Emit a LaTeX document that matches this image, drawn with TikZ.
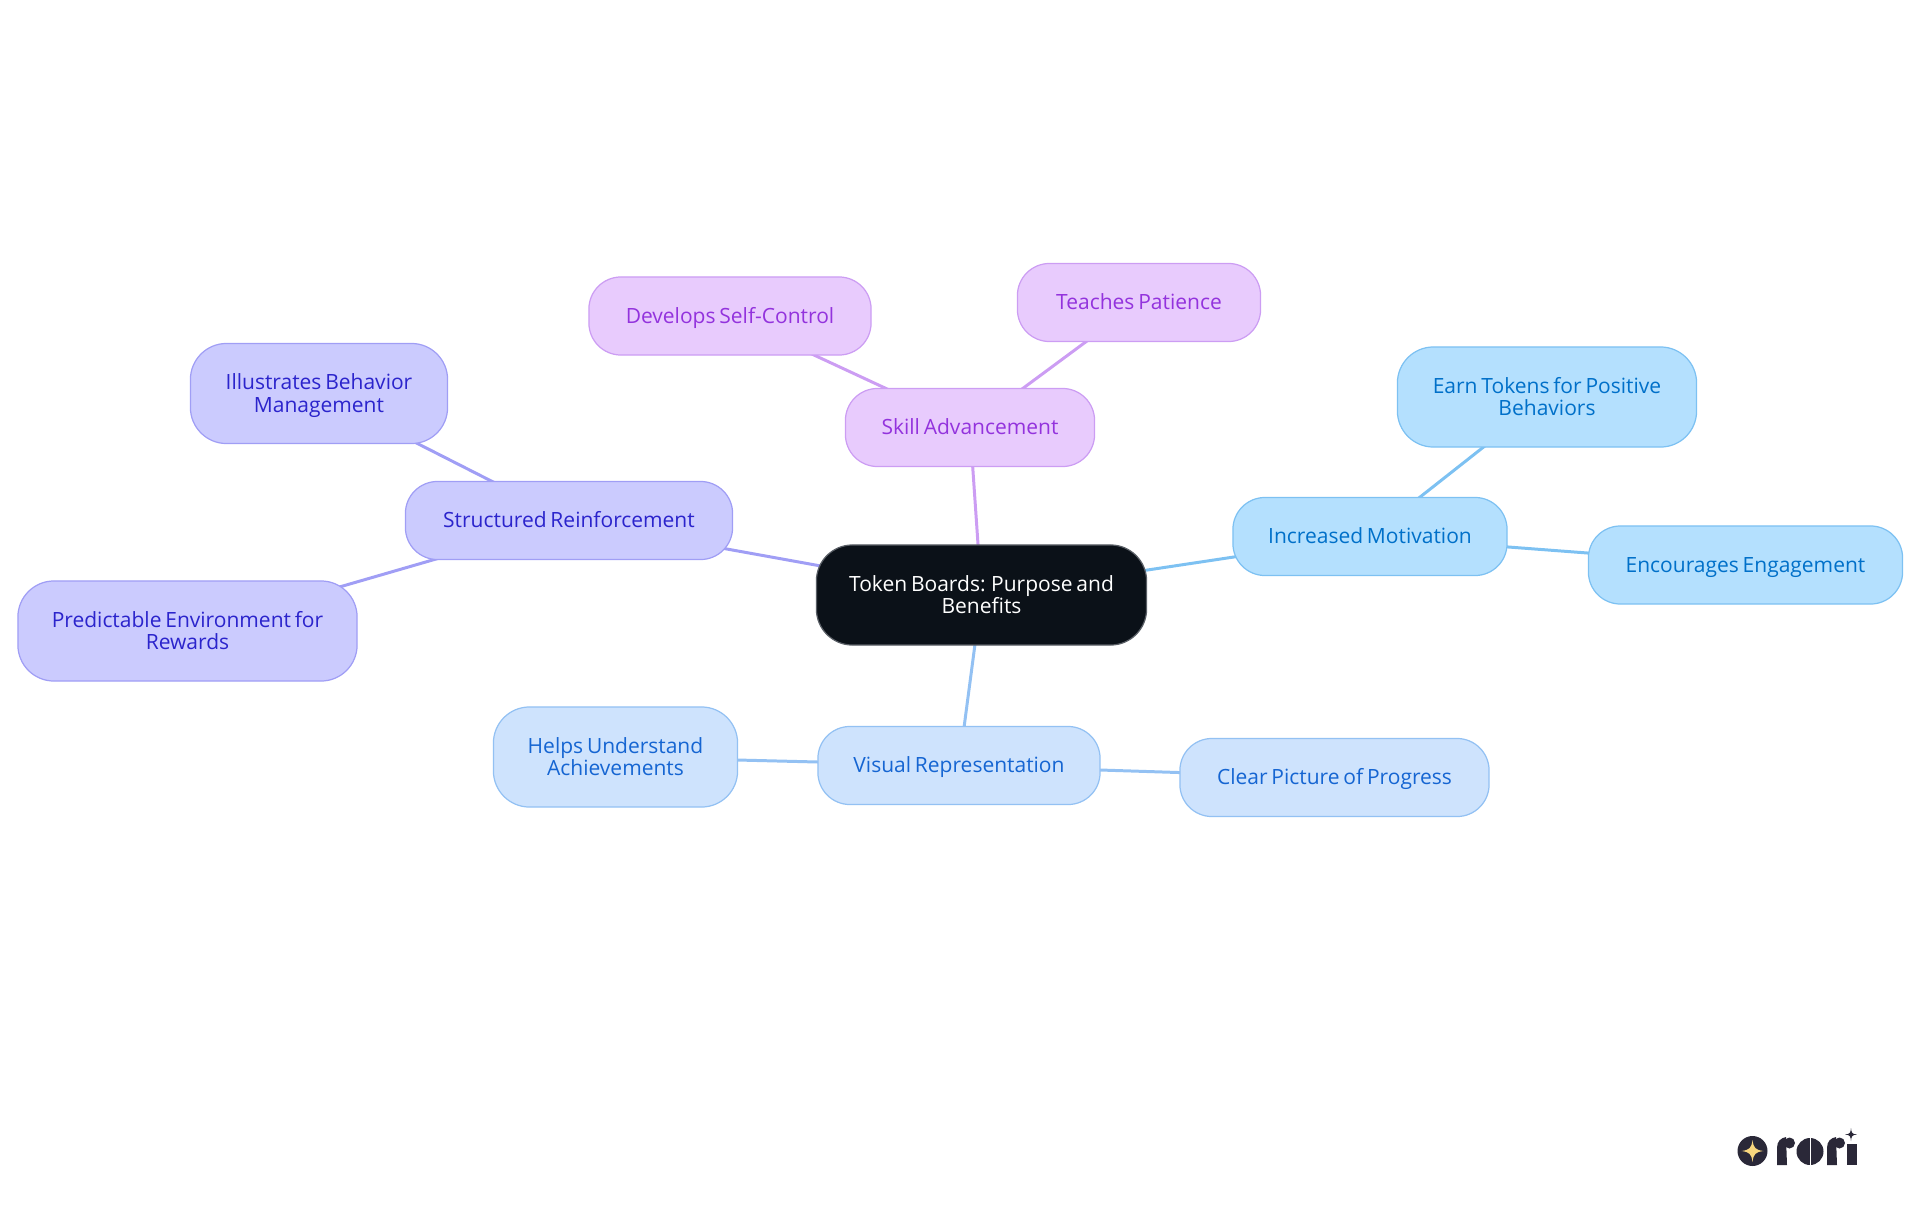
\documentclass[tikz,border=0pt]{standalone}
\usepackage{fontspec}
\setmainfont[WordSpace=0.7]{Open Sans}
\usetikzlibrary{backgrounds}

\definecolor{rootfill}{HTML}{0B1118}
\definecolor{rootline}{HTML}{5A5F66}
\definecolor{skillfill}{HTML}{E8CBFD}
\definecolor{skillline}{HTML}{CC9DF3}
\definecolor{skilltext}{HTML}{9333DD}
\definecolor{reinffill}{HTML}{CBCBFE}
\definecolor{reinfline}{HTML}{A09EF5}
\definecolor{reinftext}{HTML}{2B24CC}
\definecolor{motivfill}{HTML}{B4E0FE}
\definecolor{motivline}{HTML}{7DC1F2}
\definecolor{motivtext}{HTML}{0070C9}
\definecolor{visualfill}{HTML}{CEE3FD}
\definecolor{visualline}{HTML}{93C1F3}
\definecolor{visualtext}{HTML}{1565D2}
\definecolor{logodark}{HTML}{2A2838}
\definecolor{logostar}{HTML}{F9D77E}

\tikzset{
	topic/.style={rounded corners=0.32cm, align=flush center, inner sep=0pt, line width=0.35pt,
		minimum height=0.78cm, font=\fontsize{5.97}{6.42}\selectfont,
		execute at begin node=\rule{0pt}{5.6pt}, execute at end node=\vphantom{g}},
	tall/.style={text width=#1, minimum height=1.00cm, rounded corners=0.36cm},
	rootbox/.style={topic, draw=rootline, fill=rootfill, text=white},
	skillbox/.style={topic, draw=skillline, fill=skillfill, text=skilltext},
	reinfbox/.style={topic, draw=reinfline, fill=reinffill, text=reinftext},
	motivbox/.style={topic, draw=motivline, fill=motivfill, text=motivtext},
	visualbox/.style={topic, draw=visualline, fill=visualfill, text=visualtext},
	link/.style={line width=0.85pt}
}

\begin{document}
\begin{tikzpicture}[x=0.01cm, y=-0.01cm]
	\useasboundingbox (0, 0) rectangle (1920, 1215);

	\node[rootbox, tall=3.30cm] (root) at (981.5, 595) {Token Boards: Purpose and\\Benefits};

	\node[skillbox, minimum width=2.49cm] (skill)    at (970, 427.5)  {Skill Advancement};
	\node[skillbox, minimum width=2.82cm] (develops) at (730, 316)  {Develops Self-Control};
	\node[skillbox, minimum width=2.43cm] (teaches)  at (1139, 302.5) {Teaches Patience};

	\node[reinfbox, minimum width=3.27cm] (reinf)   at (569, 520.5) {Structured Reinforcement};
	\node[reinfbox, tall=2.57cm] (illus) at (319, 393.5) {Illustrates Behavior\\Management};
	\node[reinfbox, tall=3.39cm] (pred)  at (187.5, 631) {Predictable Environment for\\Rewards};

	\node[motivbox, minimum width=2.74cm] (motiv) at (1370, 536.5) {Increased Motivation};
	\node[motivbox, tall=2.99cm] (earn) at (1547, 397) {Earn Tokens for Positive\\Behaviors};
	\node[motivbox, minimum width=3.14cm] (engage) at (1745.5, 565) {Encourages Engagement};

	\node[visualbox, minimum width=2.82cm] (visual) at (959, 765.5) {Visual Representation};
	\node[visualbox, tall=2.44cm] (helps) at (615.5, 757) {Helps Understand\\Achievements};
	\node[visualbox, minimum width=3.09cm] (clear) at (1334.5, 777.5) {Clear Picture of Progress};

	\begin{scope}[on background layer]
		\draw [link, skillline] (root.center) to (skill.center);
		\draw [link, skillline] (skill.center) to (develops.center);
		\draw [link, skillline] (skill.center) to (teaches.center);

		\draw [link, reinfline] (root.center) to (reinf.center);
		\draw [link, reinfline] (reinf.center) to (illus.center);
		\draw [link, reinfline] (reinf.center) to (pred.center);

		\draw [link, motivline] (root.center) to (motiv.center);
		\draw [link, motivline] (motiv.center) to (earn.center);
		\draw [link, motivline] (motiv.center) to (engage.center);

		\draw [link, visualline] (root.center) to (visual.center);
		\draw [link, visualline] (visual.center) to (helps.center);
		\draw [link, visualline] (visual.center) to (clear.center);
	\end{scope}

	\fill [logodark] (1752.5, 1151) circle (15);
	\fill [logostar] (1752.5, 1140) .. controls (1753.5, 1148) and (1755.5, 1150) .. (1763.5, 1151)
		.. controls (1755.5, 1152) and (1753.5, 1154) .. (1752.5, 1162)
		.. controls (1751.5, 1154) and (1749.5, 1152) .. (1741.5, 1151)
		.. controls (1749.5, 1150) and (1751.5, 1148) .. (1752.5, 1140) -- cycle;

	\fill [logodark] (1777, 1165) -- (1777, 1148) .. controls (1777, 1141) and (1781, 1138) .. (1786, 1137)
		-- (1787, 1165) -- cycle;
	\fill [logodark] (1789.5, 1143) circle (5.5);
	\fill [logodark] (1810, 1151.5) circle (13.5);
	\fill [white] (1809.5, 1136) rectangle (1810.5, 1167);
	\fill [logodark] (1827, 1165) -- (1827, 1148) .. controls (1827, 1141) and (1831, 1138) .. (1836, 1137)
		-- (1837, 1165) -- cycle;
	\fill [logodark] (1839.5, 1143) circle (5.5);
	\fill [logodark] (1847, 1144) rectangle (1857, 1165);
	\fill [logodark] (1851, 1128) .. controls (1851.5, 1133) and (1852, 1134) .. (1857, 1134.5)
		.. controls (1852, 1135) and (1851.5, 1136) .. (1851, 1141)
		.. controls (1850.5, 1136) and (1850, 1135) .. (1845, 1134.5)
		.. controls (1850, 1134) and (1850.5, 1133) .. (1851, 1128) -- cycle;
\end{tikzpicture}
\end{document}
